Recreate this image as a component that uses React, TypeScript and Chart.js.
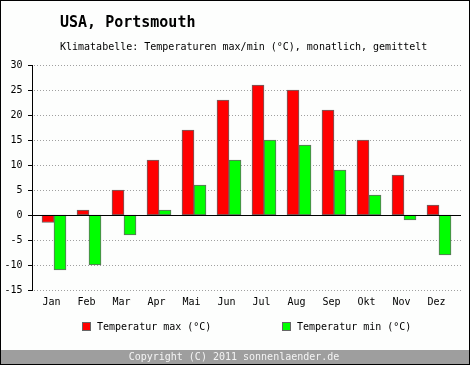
import React, { useEffect, useRef } from "react";
import { Chart, registerables } from "chart.js";

Chart.register(...registerables);

const MONTHS = ["Jan", "Feb", "Mar", "Apr", "Mai", "Jun", "Jul", "Aug", "Sep", "Okt", "Nov", "Dez"];
const TEMP_MAX = [-1.5, 1, 5, 11, 17, 23, 26, 25, 21, 15, 8, 2];
const TEMP_MIN = [-11, -10, -4, 1, 6, 11, 15, 14, 9, 4, -1, -8];
const Y_TICKS = [-15, -10, -5, 0, 5, 10, 15, 20, 25, 30];
const TITLE = "USA, Portsmouth";
const SUBTITLE = "Klimatabelle: Temperaturen max/min (°C), monatlich, gemittelt";
const LEGEND_MAX = "Temperatur max (°C)";
const LEGEND_MIN = "Temperatur min (°C)";
const FOOTER = "Copyright (C) 2011 sonnenlaender.de";

const W = 470;
const H = 365;
const FONT = '"DejaVu Sans Mono", monospace';
const BG = "#fdfefd";
const RED = "#ff0000";
const GREEN = "#00ff00";
const EDGE = "#666666";

const AXIS_X = 32;
const GRID_RIGHT = 461;

const decor = {
  id: "decor",
  beforeDraw(chart: any) {
    const ctx = chart.ctx;
    ctx.save();
    ctx.fillStyle = BG;
    ctx.fillRect(0, 0, W, H);
    ctx.restore();
  },
  beforeDatasetsDraw(chart: any) {
    const ctx = chart.ctx;
    const y = chart.scales.y;
    ctx.save();
    ctx.strokeStyle = "#a0a0a0";
    ctx.lineWidth = 1;
    ctx.setLineDash([1, 2]);
    for (const v of Y_TICKS) {
      if (v === 0) continue;
      const py = Math.floor(y.getPixelForValue(v)) + 0.5;
      ctx.beginPath();
      ctx.moveTo(AXIS_X + 2, py);
      ctx.lineTo(GRID_RIGHT, py);
      ctx.stroke();
    }
    ctx.restore();
  },
  afterDatasetsDraw(chart: any) {
    const ctx = chart.ctx;
    const y = chart.scales.y;
    ctx.save();
    ctx.strokeStyle = "#000000";
    ctx.lineWidth = 1;
    const zy = Math.floor(y.getPixelForValue(0)) + 0.5;
    ctx.beginPath();
    ctx.moveTo(AXIS_X, zy);
    ctx.lineTo(GRID_RIGHT, zy);
    ctx.stroke();
    const top = Math.floor(y.getPixelForValue(Y_TICKS[Y_TICKS.length - 1]));
    const bot = Math.floor(y.getPixelForValue(Y_TICKS[0]));
    ctx.beginPath();
    ctx.moveTo(AXIS_X + 0.5, top);
    ctx.lineTo(AXIS_X + 0.5, bot + 1);
    ctx.stroke();
    for (const v of Y_TICKS) {
      const py = Math.floor(y.getPixelForValue(v)) + 0.5;
      ctx.beginPath();
      ctx.moveTo(AXIS_X - 4, py);
      ctx.lineTo(AXIS_X + 1, py);
      ctx.stroke();
    }
    ctx.restore();
  },
  afterDraw(chart: any) {
    const ctx = chart.ctx;
    ctx.save();
    ctx.fillStyle = "#000000";
    ctx.textAlign = "left";
    ctx.textBaseline = "alphabetic";
    ctx.font = `bold 15px ${FONT}`;
    ctx.fillText(TITLE, 60, 27);
    ctx.font = `10px ${FONT}`;
    ctx.fillText(SUBTITLE, 60, 50);
    const items = [
      { x: 82, color: RED, text: LEGEND_MAX },
      { x: 282, color: GREEN, text: LEGEND_MIN },
    ];
    for (const it of items) {
      ctx.fillStyle = it.color;
      ctx.fillRect(it.x, 322, 9, 9);
      ctx.strokeStyle = EDGE;
      ctx.lineWidth = 1;
      ctx.strokeRect(it.x + 0.5, 322.5, 8, 8);
      ctx.fillStyle = "#000000";
      ctx.textBaseline = "middle";
      ctx.fillText(it.text, it.x + 15, 327);
    }
    ctx.fillStyle = "#9e9e9e";
    ctx.fillRect(0, 350, W, H - 350);
    ctx.fillStyle = "#f4f4f4";
    ctx.textAlign = "center";
    ctx.textBaseline = "middle";
    ctx.fillText(FOOTER, 234, 357);
    ctx.strokeStyle = "#000000";
    ctx.lineWidth = 1;
    ctx.strokeRect(0.5, 0.5, W - 1, H - 1);
    ctx.restore();
  },
};

export default function App() {
  const ref = useRef<HTMLCanvasElement | null>(null);
  useEffect(() => {
    document.body.style.margin = "0";
    const canvas = ref.current!;
    const chart = new Chart(canvas, {
      type: "bar",
      data: {
        labels: MONTHS,
        datasets: [
          {
            label: LEGEND_MAX,
            data: TEMP_MAX,
            backgroundColor: RED,
            borderColor: EDGE,
            borderWidth: 1,
            borderSkipped: false,
            barThickness: 12,
          },
          {
            label: LEGEND_MIN,
            data: TEMP_MIN,
            backgroundColor: GREEN,
            borderColor: EDGE,
            borderWidth: 1,
            borderSkipped: false,
            barThickness: 12,
          },
        ],
      },
      options: {
        responsive: false,
        animation: false,
        devicePixelRatio: 1,
        layout: { padding: { top: 65, right: 13.5, bottom: 0, left: 0 } },
        plugins: {
          legend: { display: false },
          title: { display: false },
          tooltip: { enabled: false },
        },
        scales: {
          x: {
            type: "category",
            offset: true,
            grid: { display: false, drawTicks: false },
            border: { display: false },
            ticks: {
              font: { family: FONT, size: 10 },
              color: "#000000",
              padding: 6,
              labelOffset: -2.5,
              maxRotation: 0,
              autoSkip: false,
            },
            afterFit(scale: any) {
              scale.height = H - 290;
            },
          },
          y: {
            min: -15,
            max: 30,
            grid: { display: false, drawTicks: false },
            border: { display: false },
            ticks: {
              stepSize: 5,
              font: { family: FONT, size: 10 },
              color: "#000000",
              padding: 14,
            },
            afterFit(scale: any) {
              scale.width = 36.5;
            },
          },
        },
      },
      plugins: [decor],
    });
    return () => chart.destroy();
  }, []);
  return <canvas ref={ref} width={W} height={H} style={{ display: "block", width: W, height: H }} />;
}
